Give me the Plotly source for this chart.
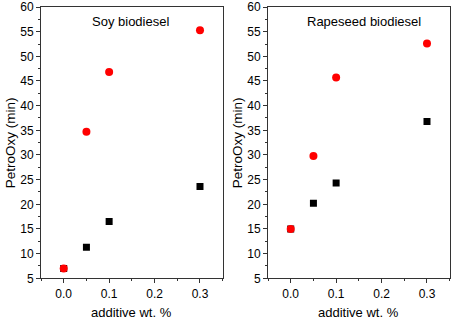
import plotly.graph_objects as go
from plotly.subplots import make_subplots

# Data
x_vals = [0.0, 0.05, 0.1, 0.3]
soy_black = [7.0, 11.3, 16.5, 23.6]
soy_red = [7.0, 34.7, 46.8, 55.3]
rape_black = [15.0, 20.2, 24.3, 36.8]
rape_red = [15.0, 29.8, 45.7, 52.6]
panel_titles = ["Soy biodiesel", "Rapeseed biodiesel"]
x_title = "additive wt. %"
y_title = "PetroOxy (min)"

W, H = 454, 319
fig = make_subplots(rows=1, cols=2)

for col, (blk, red) in enumerate([(soy_black, soy_red), (rape_black, rape_red)], start=1):
    fig.add_trace(go.Scatter(x=x_vals, y=blk, mode="markers",
                             marker=dict(symbol="square", size=7, color="black", line=dict(width=0)),
                             showlegend=False), row=1, col=col)
    fig.add_trace(go.Scatter(x=x_vals, y=red, mode="markers",
                             marker=dict(symbol="circle", size=8, color="#ff0000", line=dict(width=0)),
                             showlegend=False), row=1, col=col)

ybot, ytop = (H - 278.3) / H, (H - 7) / H
doms = [[41 / W, 222.7 / W], [268 / W, 449.7 / W]]

FONT = "Liberation Sans, Arial"
axis_common = dict(showline=True, linecolor="#333", linewidth=1, mirror=True, automargin=False,
                   ticks="outside", ticklen=4, tickcolor="#333", showgrid=False, zeroline=False,
                   tickfont=dict(family=FONT, size=12, color="black"))

for i, name in enumerate(["xaxis", "xaxis2"]):
    fig.layout[name].update(domain=doms[i], range=[-0.05, 0.35], tick0=0, dtick=0.1,
                            tickformat=".1f",
                            minor=dict(ticks="outside", ticklen=2, dtick=0.05, tick0=0, tickcolor="#333"),
                            **axis_common)
for i, name in enumerate(["yaxis", "yaxis2"]):
    fig.layout[name].update(domain=[ybot, ytop], range=[5, 60], tick0=5, dtick=5,
                            minor=dict(ticks="outside", ticklen=2, dtick=2.5, tick0=5, tickcolor="#333"),
                            **axis_common)

centers = [130 / W, 363.7 / W]
for i, t in enumerate(panel_titles):
    fig.add_annotation(x=centers[i], y=(H - 21) / H, xref="paper", yref="paper",
                       text=t, showarrow=False, xanchor="center", yanchor="middle",
                       font=dict(family=FONT, size=13, color="black"))
    # x-axis title
    xc = (doms[i][0] + doms[i][1]) / 2
    fig.add_annotation(x=xc, y=(H - 312.5) / H, xref="paper", yref="paper",
                       text=x_title, showarrow=False, xanchor="center", yanchor="middle",
                       font=dict(family=FONT, size=13, color="black"))
    # y-axis title
    yx = [10.5, 237.5][i]
    fig.add_annotation(x=yx / W, y=(ybot + ytop) / 2, xref="paper", yref="paper",
                       text=y_title, showarrow=False, textangle=-90,
                       xanchor="center", yanchor="middle",
                       font=dict(family=FONT, size=13.5, color="black"))

fig.update_layout(width=W, height=H, margin=dict(l=0, r=0, t=0, b=0),
                  paper_bgcolor="white", plot_bgcolor="white")
fig.write_html("out.html", config={"displayModeBar": False},
               post_script="document.body.style.margin='0';document.body.style.overflow='hidden';")
